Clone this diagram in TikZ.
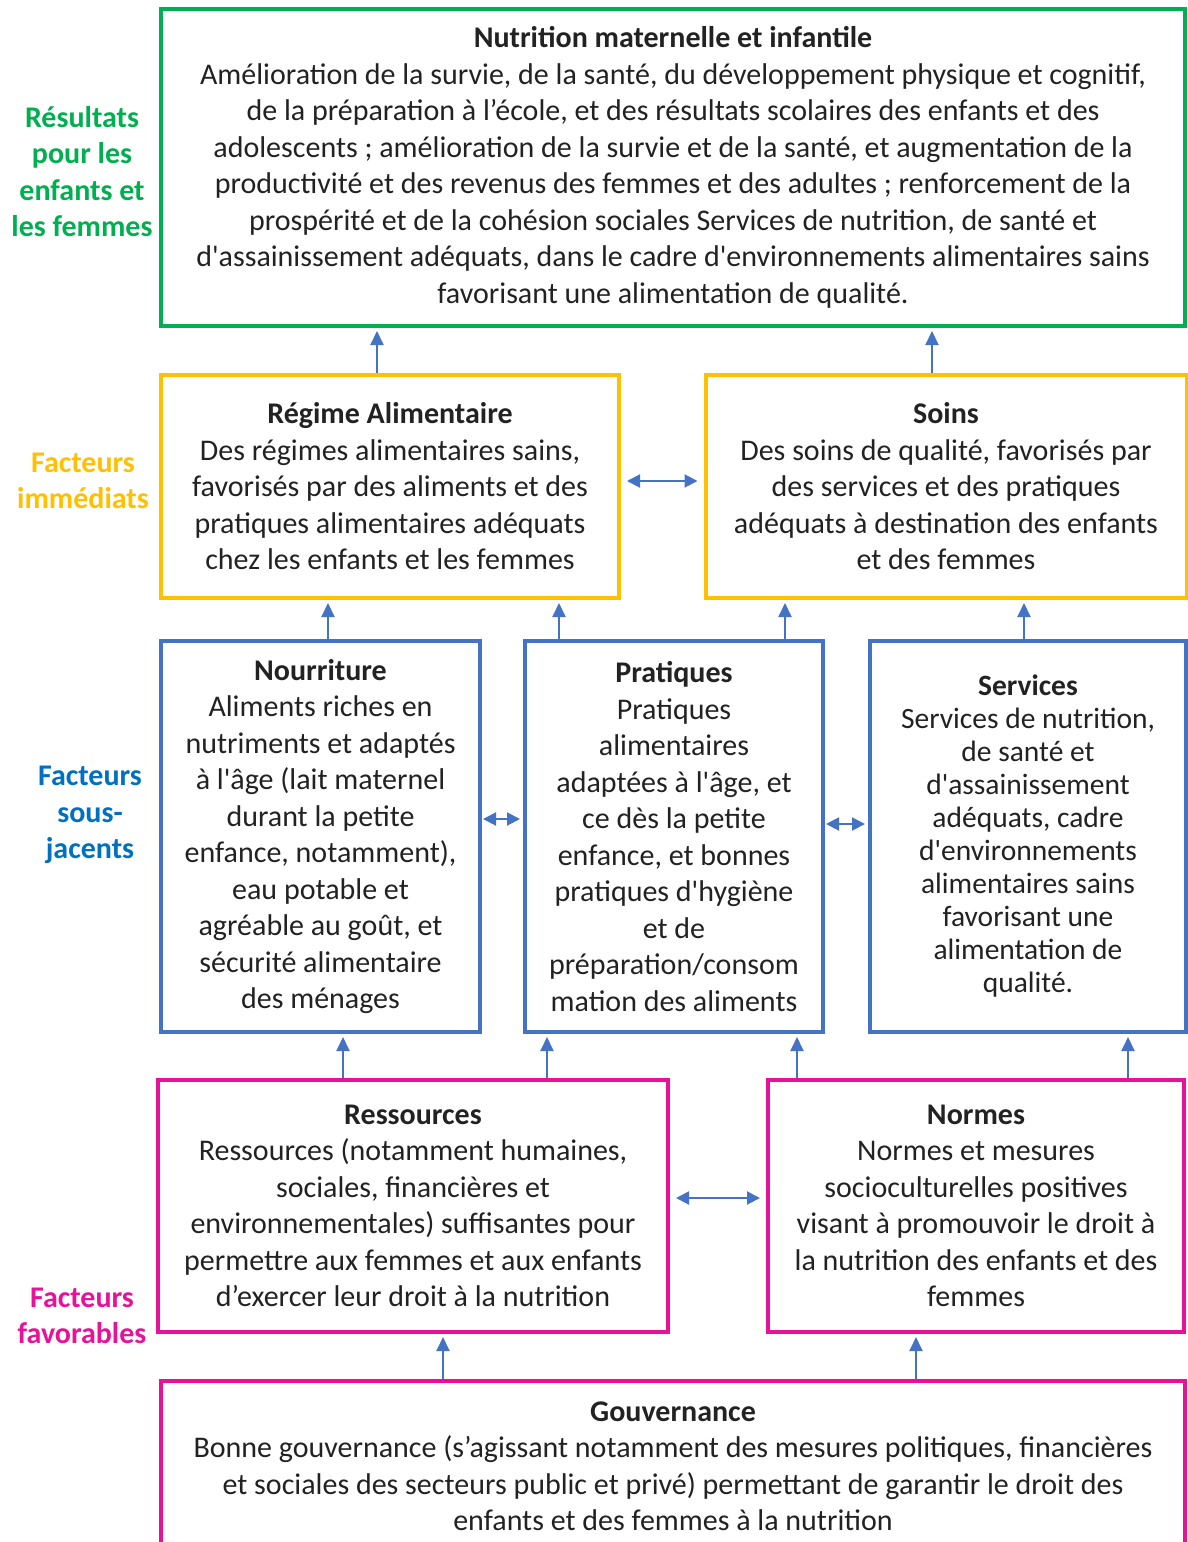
\documentclass[tikz,border=0pt]{standalone}
\usepackage{fontspec}
\setmainfont{Carlito}[Ligatures=TeXOff]
\usetikzlibrary{arrows.meta}
\definecolor{cgreen}{HTML}{00B050}
\definecolor{cyellow}{HTML}{FFC000}
\definecolor{cblue}{HTML}{4472C4}
\definecolor{clblue}{HTML}{0070C0}
\definecolor{cpink}{HTML}{E8129A}
\definecolor{txt}{HTML}{222222}
\begin{document}
\begin{tikzpicture}[x=1pt,y=-1pt,
  box/.style={draw, line width=4pt, inner sep=0pt, align=center, text=txt,
    font=\fontsize{30}{36.5}\selectfont},
  lbl/.style={align=center, font=\fontsize{30}{36.5}\selectfont\bfseries},
  arr/.style={draw=cblue, line width=2pt, -{Triangle[length=14pt,width=13pt]}, shorten >=3pt},
  dbl/.style={draw=cblue, line width=2pt, {Triangle[length=13pt,width=13pt]}-{Triangle[length=13pt,width=13pt]}, shorten >=6pt, shorten <=6pt}]
\useasboundingbox[fill=white] (0,0) rectangle (1187,1542);

% outcome
\node[box, draw=cgreen, minimum width=1024pt, minimum height=317pt] (green) at (673,167.5)
 {\textbf{Nutrition maternelle et infantile}\\
 Amélioration de la survie, de la santé, du développement physique et cognitif,\\
 de la préparation à l’école, et des résultats scolaires des enfants et des\\
 adolescents ; amélioration de la survie et de la santé, et augmentation de la\\
 productivité et des revenus des femmes et des adultes ; renforcement de la\\
 prospérité et de la cohésion sociales Services de nutrition, de santé et\\
 d'assainissement adéquats, dans le cadre d'environnements alimentaires sains\\
 favorisant une alimentation de qualité.};

% immediate
\node[box, draw=cyellow, minimum width=458pt, minimum height=223pt] (yl) at (390,486.5)
 {\textbf{Régime Alimentaire}\\
 Des régimes alimentaires sains,\\
 favorisés par des aliments et des\\
 pratiques alimentaires adéquats\\
 chez les enfants et les femmes};
\node[box, draw=cyellow, minimum width=481pt, minimum height=223pt] (yr) at (946,486.5)
 {\textbf{Soins}\\
 Des soins de qualité, favorisés par\\
 des services et des pratiques\\
 adéquats à destination des enfants\\
 et des femmes};

% underlying
\node[box, draw=cblue, minimum width=319pt, minimum height=391pt] (b1) at (320.5,836.5)
 {\textbf{Nourriture}\\
 Aliments riches en\\
 nutriments et adaptés\\
 à l'âge (lait maternel\\
 durant la petite\\
 enfance, notamment),\\
 eau potable et\\
 agréable au goût, et\\
 sécurité alimentaire\\
 des ménages};
\node[box, draw=cblue, minimum width=298pt, minimum height=391pt] (b2) at (674,836.5)
 {\textbf{Pratiques}\\
 Pratiques\\
 alimentaires\\
 adaptées à l'âge, et\\
 ce dès la petite\\
 enfance, et bonnes\\
 pratiques d'hygiène\\
 et de\\
 préparation/consom\\
 mation des aliments};
\node[box, draw=cblue, minimum width=316pt, minimum height=391pt,
  font=\fontsize{29.5}{33}\selectfont] (b3) at (1028,836.5)
 {\textbf{Services}\\
 Services de nutrition,\\
 de santé et\\
 d'assainissement\\
 adéquats, cadre\\
 d'environnements\\
 alimentaires sains\\
 favorisant une\\
 alimentation de\\
 qualité.};

% enabling
\node[box, draw=cpink, minimum width=510pt, minimum height=252pt] (m1) at (413,1206)
 {\textbf{Ressources}\\
 Ressources (notamment humaines,\\
 sociales, financières et\\
 environnementales) suffisantes pour\\
 permettre aux femmes et aux enfants\\
 d’exercer leur droit à la nutrition};
\node[box, draw=cpink, minimum width=416pt, minimum height=252pt] (m2) at (976,1206)
 {\textbf{Normes}\\
 Normes et mesures\\
 socioculturelles positives\\
 visant à promouvoir le droit à\\
 la nutrition des enfants et des\\
 femmes};
\node[box, draw=cpink, minimum width=1024pt, minimum height=171pt] (gv) at (673,1466.5)
 {\textbf{Gouvernance}\\
 Bonne gouvernance (s’agissant notamment des mesures politiques, financières\\
 et sociales des secteurs public et privé) permettant de garantir le droit des\\
 enfants et des femmes à la nutrition};

% side labels
\node[lbl, text=cgreen] (l1) at (82,171.5) {Résultats\\pour les\\enfants et\\les femmes};
\node[lbl, text=cyellow] (l2) at (83,481) {Facteurs\\immédiats};
\node[lbl, text=clblue] (l3) at (90,815) {Facteurs\\sous-\\jacents};
\node[lbl, text=cpink] (l4) at (82,1316) {Facteurs\\favorables};

% vertical arrows
\draw[arr] (yl.north -| 377,0) -- (green.south -| 377,0);
\draw[arr] (yr.north -| 932,0) -- (green.south -| 932,0);
\draw[arr] (b1.north -| 328,0) -- (yl.south -| 328,0);
\draw[arr] (b2.north -| 559,0) -- (yl.south -| 559,0);
\draw[arr] (b2.north -| 785,0) -- (yr.south -| 785,0);
\draw[arr] (b3.north -| 1024,0) -- (yr.south -| 1024,0);
\draw[arr] (m1.north -| 343,0) -- (b1.south -| 343,0);
\draw[arr] (m1.north -| 547,0) -- (b2.south -| 547,0);
\draw[arr] (m2.north -| 797,0) -- (b2.south -| 797,0);
\draw[arr] (m2.north -| 1128,0) -- (b3.south -| 1128,0);
\draw[arr] (gv.north -| 443,0) -- (m1.south -| 443,0);
\draw[arr] (gv.north -| 916,0) -- (m2.south -| 916,0);

% horizontal double arrows
\draw[dbl] (yl.east |- 0,481) -- (yr.west |- 0,481);
\draw[dbl, shorten <=1pt, shorten >=3pt] (b1.east |- 0,819) -- (b2.west |- 0,819);
\draw[dbl, shorten <=1pt, shorten >=3pt] (b2.east |- 0,824) -- (b3.west |- 0,824);
\draw[dbl] (m1.east |- 0,1198) -- (m2.west |- 0,1198);
\end{tikzpicture}
\end{document}
